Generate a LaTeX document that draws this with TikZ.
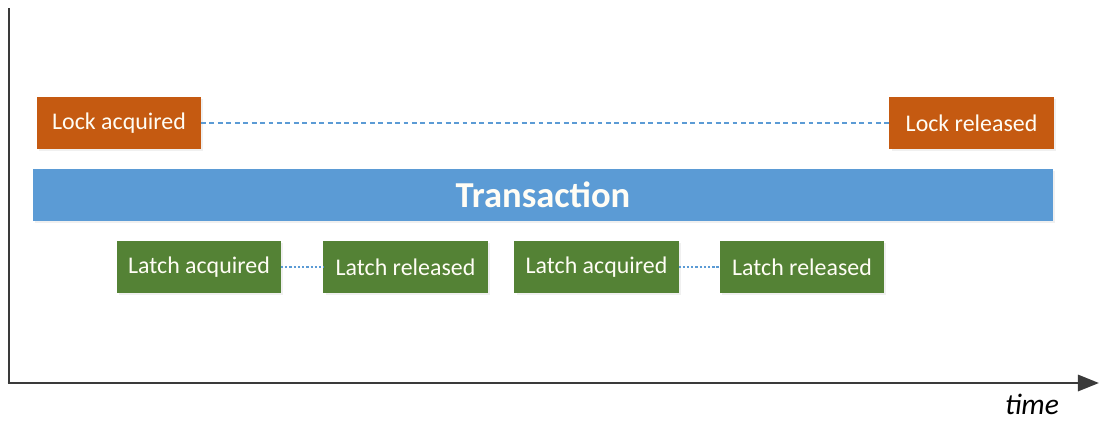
\documentclass[tikz,border=0pt]{standalone}
\usepackage{fontspec}
\setmainfont{Carlito}
\usetikzlibrary{positioning,arrows.meta,shadows}
\definecolor{ink}{HTML}{3A3A3A}
\definecolor{clock}{HTML}{C55A11}
\definecolor{ctxn}{HTML}{5B9BD5}
\definecolor{clatch}{HTML}{548235}
\definecolor{ctext}{HTML}{FFFDF5}
\tikzset{
  evbox/.style={draw=none, rectangle, outer sep=0pt, inner sep=2pt, text=ctext,
                font=\fontsize{17}{20}\selectfont, minimum height=1.3cm, align=center,
                drop shadow={opacity=0.12, shadow xshift=1.5pt, shadow yshift=-1.5pt}},
  lockbox/.style={evbox, fill=clock, minimum width=4.1cm},
  latchbox/.style={evbox, fill=clatch, minimum width=4.1cm},
  txnbar/.style={evbox, fill=ctxn, minimum width=25.5cm,
                 font=\fontsize{26}{30}\selectfont\bfseries},
  holdline/.style={draw=ctxn, line width=1.8pt, dash pattern=on 3.5pt off 2.5pt},
  latchline/.style={draw=ctxn, line width=1pt, dash pattern=on 1.6pt off 1.4pt},
  axis/.style={draw=ink, line width=2pt},
}
\begin{document}
\begin{tikzpicture}[x=0.025cm, y=-0.025cm]
\useasboundingbox (0,0) rectangle (1101,422);
% axes
\coordinate (top) at (9,8);
\coordinate (orig) at (9,383);
\coordinate (tend) at (1099,383);
\draw[axis] (top) -- (orig);
\draw[axis, -{Triangle[length=15pt, width=11.5pt]}] ([xshift=-1pt]orig) -- (tend);
\node[font=\fontsize{21}{24}\selectfont\itshape, text=black, inner sep=0pt] (tlbl) at (1032,404) {time};
% lock
\node[lockbox] (lockacq) at (119,123) {Lock acquired};
\node[lockbox] (lockrel) at (971.5,123) {Lock released};
\draw[holdline] (lockacq.east) -- (lockrel.west);
% transaction
\node[txnbar] (txn) at (543,195) {Transaction};
% latches
\node[latchbox] (latchacqA) at (199,267) {Latch acquired};
\node[latchbox] (latchrelA) at (405.5,267) {Latch released};
\node[latchbox] (latchacqB) at (596.5,267) {Latch acquired};
\node[latchbox] (latchrelB) at (802,267) {Latch released};
\draw[latchline] (latchacqA.east) -- (latchrelA.west);
\draw[latchline] (latchacqB.east) -- (latchrelB.west);
\end{tikzpicture}
\end{document}
